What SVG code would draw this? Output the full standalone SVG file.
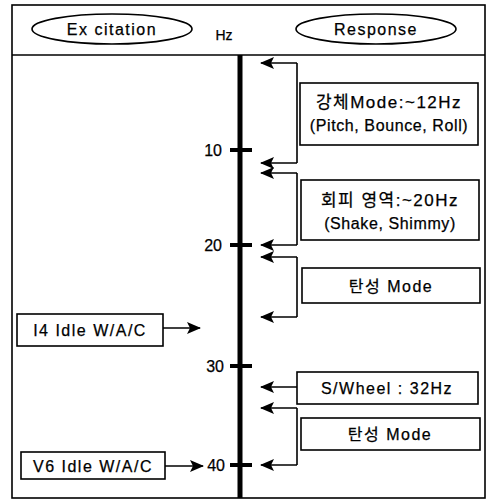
<svg xmlns="http://www.w3.org/2000/svg" width="488" height="502" viewBox="0 0 488 502">
<defs>
<style>
.ln{fill:none;stroke:#000;stroke-width:1.6}
.bx{fill:#fff;stroke:#000;stroke-width:1.6}
.tx{font-family:"Liberation Sans","Noto Sans CJK KR",Arial,sans-serif;font-size:16px;fill:#000;stroke:#000;stroke-width:0.25;letter-spacing:1.5px}
.mid{text-anchor:middle}
.tk{stroke:#000;stroke-width:4}
</style>
<marker id="ah" viewBox="0 0 14 12" refX="13" refY="6" markerWidth="14" markerHeight="12" markerUnits="userSpaceOnUse" orient="auto">
<path d="M0,0 L14,6 L0,12 L3,6 Z" fill="#000"/>
</marker>
</defs>
<rect width="488" height="502" fill="#fff"/>
<g id="frame">
<rect x="12" y="5" width="473" height="493" class="ln"/>
<line x1="12" y1="55" x2="485" y2="55" class="ln"/>
</g>
<g id="header">
<ellipse cx="112" cy="29" rx="80" ry="15" class="ln"/>
<text x="112" y="35" class="tx mid" style="font-size:16px">Ex citation</text>
<text x="224" y="40" class="tx mid" style="font-size:14px;letter-spacing:0">Hz</text>
<ellipse cx="376" cy="29" rx="80" ry="15" class="ln"/>
<text x="376" y="35" class="tx mid" style="font-size:16px">Response</text>
</g>
<g id="axis">
<line x1="240" y1="55" x2="240" y2="498" stroke="#000" stroke-width="5"/>
<line x1="230" y1="150" x2="252" y2="150" class="tk"/>
<line x1="230" y1="245" x2="252" y2="245" class="tk"/>
<line x1="230" y1="366" x2="252" y2="366" class="tk"/>
<line x1="230" y1="465" x2="252" y2="465" class="tk"/>
<text x="222" y="156" class="tx" text-anchor="end" style="letter-spacing:0">10</text>
<text x="222" y="251" class="tx" text-anchor="end" style="letter-spacing:0">20</text>
<text x="224" y="372" class="tx" text-anchor="end" style="letter-spacing:0">30</text>
<text x="225" y="471" class="tx" text-anchor="end" style="letter-spacing:0">40</text>
</g>
<g id="connectors">
<polyline points="297,63 297,163" class="ln"/>
<line x1="297" y1="63" x2="261" y2="63" class="ln" marker-end="url(#ah)"/>
<line x1="297" y1="163" x2="261" y2="163" class="ln" marker-end="url(#ah)"/>
<polyline points="297,173 297,245" class="ln"/>
<line x1="297" y1="173" x2="261" y2="173" class="ln" marker-end="url(#ah)"/>
<line x1="297" y1="245" x2="261" y2="245" class="ln" marker-end="url(#ah)"/>
<polyline points="297,257 297,317" class="ln"/>
<line x1="297" y1="257" x2="261" y2="257" class="ln" marker-end="url(#ah)"/>
<line x1="297" y1="317" x2="261" y2="317" class="ln" marker-end="url(#ah)"/>
<line x1="297" y1="387" x2="261" y2="387" class="ln" marker-end="url(#ah)"/>
<polyline points="297,408 297,465" class="ln"/>
<line x1="297" y1="408" x2="261" y2="408" class="ln" marker-end="url(#ah)"/>
<line x1="297" y1="465" x2="261" y2="465" class="ln" marker-end="url(#ah)"/>
<line x1="163" y1="328" x2="200" y2="328" class="ln" marker-end="url(#ah)"/>
<line x1="165" y1="466" x2="203" y2="466" class="ln" marker-end="url(#ah)"/>
</g>
<g id="rigid-mode">
<rect x="300" y="83" width="178" height="62" class="bx"/>
<text x="389" y="108" class="tx mid" style="font-size:17px">강체Mode:~12Hz</text>
<text x="389" y="131" class="tx mid" style="letter-spacing:0.6px">(Pitch, Bounce, Roll)</text>
</g>
<g id="avoid-zone">
<rect x="301" y="180" width="178" height="60" class="bx"/>
<text x="390" y="206" class="tx mid" style="font-size:17px">회피 영역:~20Hz</text>
<text x="390" y="229" class="tx mid" style="letter-spacing:0.6px">(Shake, Shimmy)</text>
</g>
<g id="elastic-mode-1">
<rect x="302" y="268" width="178" height="35" class="bx"/>
<text x="391" y="292" class="tx mid">탄성 Mode</text>
</g>
<g id="swheel">
<rect x="297" y="372" width="181" height="32" class="bx"/>
<text x="387" y="394" class="tx mid">S/Wheel : 32Hz</text>
</g>
<g id="elastic-mode-2">
<rect x="301" y="418" width="179" height="32" class="bx"/>
<text x="390" y="440" class="tx mid">탄성 Mode</text>
</g>
<g id="i4-idle">
<rect x="17" y="314" width="146" height="32" class="bx"/>
<text x="90" y="336" class="tx mid">I4 Idle W/A/C</text>
</g>
<g id="v6-idle">
<rect x="21" y="452" width="144" height="27" class="bx"/>
<text x="93" y="472" class="tx mid">V6 Idle W/A/C</text>
</g>
</svg>
